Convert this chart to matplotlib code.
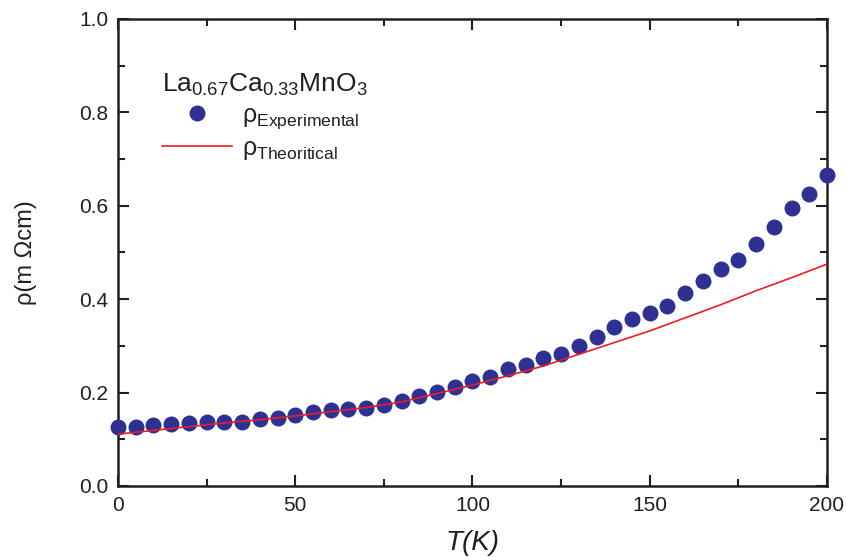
import numpy as np
import matplotlib.pyplot as plt
from matplotlib.ticker import MultipleLocator

plt.rcParams['font.family'] = ['Liberation Sans', 'DejaVu Sans']
plt.rcParams['mathtext.fontset'] = 'custom'
plt.rcParams['mathtext.rm'] = 'Liberation Sans'
plt.rcParams['mathtext.it'] = 'Liberation Sans:italic'

# experimental points (T in K, rho in mOhm cm)
t_exp = np.arange(0, 201, 5)
rho_exp = [0.126, 0.127, 0.130, 0.133, 0.134, 0.136, 0.136, 0.138, 0.143, 0.146,
           0.151, 0.158, 0.163, 0.165, 0.168, 0.173, 0.181, 0.193, 0.202, 0.213,
           0.225, 0.234, 0.250, 0.260, 0.273, 0.283, 0.300, 0.320, 0.340, 0.357,
           0.371, 0.386, 0.413, 0.439, 0.465, 0.484, 0.518, 0.555, 0.595, 0.625,
           0.666]

# theoretical curve
t_th = np.arange(0, 201, 10)
rho_th = [0.111, 0.119, 0.127, 0.135, 0.142, 0.150, 0.159, 0.168, 0.180, 0.198,
          0.216, 0.236, 0.257, 0.282, 0.307, 0.332, 0.360, 0.388, 0.418, 0.446,
          0.475]

fig = plt.figure(figsize=(8.46, 5.57), dpi=100)
ax = fig.add_axes([0.1395, 0.1275, 0.838, 0.8385])

ax.plot(t_exp, rho_exp, 'o', color='#2E3192', markersize=11.5, markeredgewidth=0,
        clip_on=False, zorder=3, label=r'ρ$_{\mathrm{Experimental}}$')
ax.plot(t_th, rho_th, '-', color='#ED1C24', lw=1.2, zorder=4,
        label=r'ρ$_{\mathrm{Theoritical}}$')

ax.set_xlim(0, 200)
ax.set_ylim(0, 1.0)
ax.xaxis.set_major_locator(MultipleLocator(50))
ax.xaxis.set_minor_locator(MultipleLocator(25))
ax.yaxis.set_major_locator(MultipleLocator(0.2))
ax.yaxis.set_minor_locator(MultipleLocator(0.1))
ax.yaxis.set_major_formatter(plt.FormatStrFormatter('%.1f'))
ax.tick_params(which='both', direction='in', top=True, right=True, width=1.5,
               labelsize=15, pad=7, colors='#231F20')
ax.tick_params(which='major', length=8)
ax.tick_params(which='minor', length=5)
for s in ax.spines.values():
    s.set_linewidth(1.8)
    s.set_color('#231F20')

ax.set_xlabel('T(K)', fontsize=20, style='italic', labelpad=11, color='#231F20')
ax.set_ylabel('ρ(m Ωcm)', fontsize=17, labelpad=30, color='#231F20')

leg = ax.legend(loc='upper left', bbox_to_anchor=(0.03, 0.935), frameon=False,
                title=r'La$_{0.67}$Ca$_{0.33}$MnO$_3$', title_fontsize=19,
                fontsize=18, handlelength=2.8, handletextpad=0.4, labelspacing=0.2)
leg._legend_box.align = 'left'
for txt in leg.get_texts() + [leg.get_title()]:
    txt.set_color('#231F20')

fig.savefig('out.png', dpi=100)
